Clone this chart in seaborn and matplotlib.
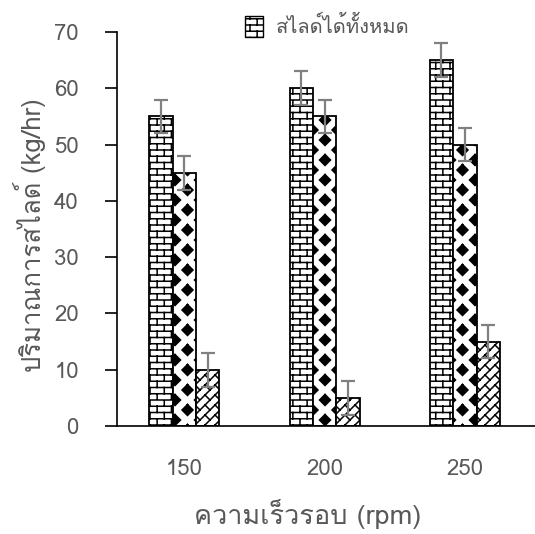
import numpy as np
import pandas as pd
import matplotlib
matplotlib.use("Agg")
import matplotlib.pyplot as plt
import matplotlib.hatch as mhatch
from matplotlib import font_manager, ft2font
from matplotlib.path import Path
from matplotlib.patches import Patch
import seaborn as sns

# data
speeds = ["150", "200", "250"]
series = ["สไลด์ได้ทั้งหมด", "สไลด์ได้ดี", "สไลด์เสีย"]
total_rate = [55, 60, 65]
good_rate = [45, 55, 50]
bad_rate = [10, 5, 15]
total_err = [3, 3, 3]
good_err = [3, 3, 3]
bad_err = [3, 3, 3]


# --- custom hatches: brick, filled diamonds, diagonal brick ---
def brick_segments(rows=16, cols=7):
    segs = []
    for i in range(rows + 1):
        segs.append([(0, i / rows), (1, i / rows)])
    for i in range(rows):
        for j in range(cols + 1):
            x = (j + 0.5 * (i % 2)) / cols
            segs.append([(x, i / rows), (x, (i + 1) / rows)])
    return segs


def diamond_segments(cols=4, rows=10, hw=0.055, hh=0.055):
    segs = []
    for i in range(rows + 1):
        y = i / rows
        for j in range(-1, cols + 1):
            x = (j + 0.5 * (i % 2)) / cols
            segs.append([(x, y + hh), (x + hw, y), (x, y - hh), (x - hw, y), (x, y + hh)])
    return segs


def diag_brick_segments(n=10, p=5):
    segs = []
    for k in range(-n, n + 1):
        v = k / n
        segs.append([(-0.2, -0.2 + v), (1.2, 1.2 + v)])
    for k in range(-n, n):
        v0, v1 = k / n, (k + 1) / n
        for m in range(-1, 2 * p + 2):
            u = (m + 0.5 * (k % 2)) / p
            segs.append([((u - v0) / 2, (u + v0) / 2), ((u - v1) / 2, (u + v1) / 2)])
    return segs


class SegmentHatch(mhatch.HatchPatternBase):
    char = ""
    build = None

    def __init__(self, hatch, density):
        self.segs = type(self).build() if (hatch and self.char in hatch) else []
        self.num_vertices = sum(len(s) for s in self.segs)

    def set_vertices_and_codes(self, vertices, codes):
        i = 0
        for s in self.segs:
            n = len(s)
            vertices[i:i + n] = s
            codes[i] = Path.MOVETO
            codes[i + 1:i + n] = Path.LINETO
            i += n

    get_vertices_and_codes = set_vertices_and_codes


class BrickHatch(SegmentHatch):
    char = "o"
    build = staticmethod(brick_segments)


class DiamondHatch(SegmentHatch):
    char = "*"
    build = staticmethod(diamond_segments)


class DiagBrickHatch(SegmentHatch):
    char = "O"
    build = staticmethod(diag_brick_segments)


mhatch._hatch_types = [BrickHatch, DiamondHatch, DiagBrickHatch]
hatches = ["o", "*", "O"]


def thai_family():
    for f in font_manager.fontManager.ttflist:
        try:
            if 0x0E2A in ft2font.FT2Font(f.fname).get_charmap():
                return f.name
        except Exception:
            pass
    return None


sns.set_theme(style="white")
fam = thai_family()
plt.rcParams["font.family"] = ([fam] if fam else []) + ["DejaVu Sans"]
plt.rcParams["hatch.linewidth"] = 1.1

grey = "#595959"

df = pd.DataFrame({
    "speed": speeds * 3,
    "series": np.repeat(series, 3),
    "rate": total_rate + good_rate + bad_rate,
    "err": total_err + good_err + bad_err,
})

fig = plt.figure(figsize=(5.35, 5.34), dpi=100)
ax = fig.add_axes([117 / 535, 108 / 534, 418 / 535, 394 / 534])

sns.barplot(data=df, x="speed", y="rate", hue="series", width=0.5,
            palette=["white"] * 3, saturation=1, edgecolor="black",
            linewidth=1.3, errorbar=None, legend=False, ax=ax)

for cont, h, s in zip(ax.containers, hatches, series):
    sub = df[df["series"] == s]
    xs = [b.get_x() + b.get_width() / 2 for b in cont]
    for b in cont:
        b.set_hatch(h)
    ax.errorbar(xs, sub["rate"], yerr=sub["err"], fmt="none", ecolor="#808080",
                elinewidth=1.6, capsize=5, capthick=1.6, zorder=3)

ax.set_ylim(0, 70)
ax.set_xlim(-0.48, 2.5)
ax.set_yticks(range(0, 71, 10))
sns.despine(ax=ax)
for sp in ["left", "bottom"]:
    ax.spines[sp].set_color("black")
    ax.spines[sp].set_linewidth(1.2)
ax.tick_params(axis="y", length=8.5, width=1.2, color="black", pad=19,
               labelsize=16, labelcolor=grey, left=True)
ax.tick_params(axis="x", length=0, pad=24, labelsize=16, labelcolor=grey)

ax.set_xlabel("ความเร็วรอบ (rpm)", fontsize=19.5, color=grey)
ax.set_ylabel("ปริมาณการสไลด์ (kg/hr)", fontsize=18.5, color=grey)
ax.xaxis.set_label_coords(0.457, -0.185)
ax.yaxis.set_label_coords(-0.17, 0.485)

fig.legend(handles=[Patch(facecolor="white", edgecolor="black", hatch="o", label=series[0])],
           loc="upper left", bbox_to_anchor=(245 / 535, 1 - 16 / 534), frameon=False,
           fontsize=14.5, labelcolor=grey, borderpad=0, borderaxespad=0,
           handlelength=0.9, handleheight=1.25, handletextpad=0.65)

fig.savefig("out.png", dpi=100)
